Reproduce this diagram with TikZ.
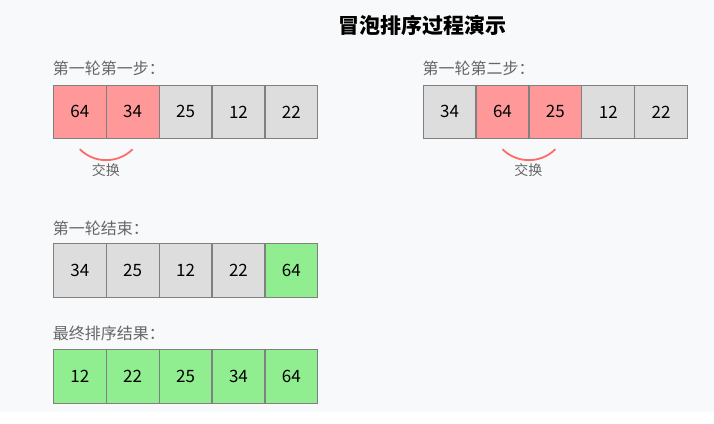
\documentclass[tikz,border=0pt]{standalone}
\usepackage{fontspec}
\setmainfont{Noto Sans CJK SC}
\definecolor{bgc}{HTML}{F8F9FA}
\definecolor{cellgray}{HTML}{DDDDDD}
\definecolor{cellred}{HTML}{FF9999}
\definecolor{cellgreen}{HTML}{90EE90}
\definecolor{bordc}{HTML}{808080}
\definecolor{labc}{HTML}{666666}
\definecolor{arcc}{HTML}{FF6B6B}
\tikzset{
  cell/.style={draw=bordc, line width=1.2pt, minimum width=52.9pt, minimum height=53.5pt,
    inner sep=0pt, anchor=north west, font=\fontsize{17}{19}\selectfont, text=black},
  gray/.style={fill=cellgray}, red/.style={fill=cellred}, green/.style={fill=cellgreen},
  lbl/.style={anchor=west, inner sep=0pt, text=labc, font=\fontsize{16}{18}\selectfont},
  swaparc/.style={draw=arcc, line width=1.8pt},
  swaplbl/.style={inner sep=0pt, text=labc, font=\fontsize{14}{16}\selectfont},
}
\begin{document}
\begin{tikzpicture}[x=1pt,y=-1pt]
\useasboundingbox (0,0) rectangle (714,423);
\fill[white] (0,0) rectangle (714,423);
\fill[bgc] (0,0) rectangle (714,412);
\node[inner sep=0pt, font=\fontsize{21}{23}\selectfont\bfseries] (title) at (422.5,25) {冒泡排序过程演示};
% row 1
\node[lbl] (l1) at (52.7,68) {第一轮第一步：};
\foreach \v/\s [count=\i from 0] in {64/red,34/red,25/gray,12/gray,22/gray}
  \node[cell,\s] (a\i) at (52.7+\i*52.9,84.5) {\v};
\coordinate (a0s) at ([yshift=-10pt]a0.south);
\coordinate (a1s) at ([yshift=-10pt]a1.south);
\draw[swaparc] (a0s) to[bend right=45] (a1s);
\node[swaplbl] (x1) at (105.8,170) {交换};
% row 2
\node[lbl] (l2) at (422.5,68) {第一轮第二步：};
\foreach \v/\s [count=\i from 0] in {34/gray,64/red,25/red,12/gray,22/gray}
  \node[cell,\s] (b\i) at (422.5+\i*52.9,84.5) {\v};
\coordinate (b1s) at ([yshift=-10pt]b1.south);
\coordinate (b2s) at ([yshift=-10pt]b2.south);
\draw[swaparc] (b1s) to[bend right=45] (b2s);
\node[swaplbl] (x2) at (528.3,170) {交换};
% row 3
\node[lbl] (l3) at (52.7,228) {第一轮结束：};
\foreach \v/\s [count=\i from 0] in {34/gray,25/gray,12/gray,22/gray,64/green}
  \node[cell,\s] (c\i) at (52.7+\i*52.9,243) {\v};
% row 4
\node[lbl] (l4) at (52.7,333) {最终排序结果：};
\foreach \v/\s [count=\i from 0] in {12/green,22/green,25/green,34/green,64/green}
  \node[cell,\s] (d\i) at (52.7+\i*52.9,349) {\v};
\end{tikzpicture}
\end{document}
